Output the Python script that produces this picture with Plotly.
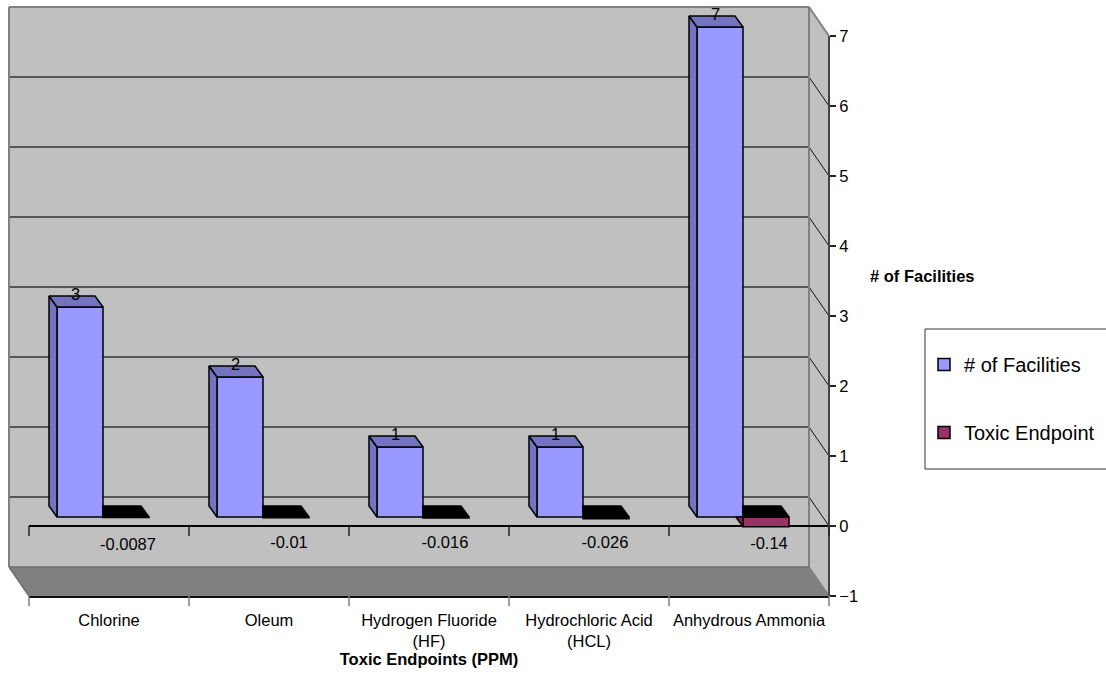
import plotly.graph_objects as go

categories = ["Chlorine", "Oleum", "Hydrogen Fluoride<br>(HF)", "Hydrochloric Acid<br>(HCL)", "Anhydrous Ammonia"]
facilities = [3, 2, 1, 1, 7]
toxic_endpoint = [-0.0087, -0.01, -0.016, -0.026, -0.14]
toxic_labels = ["-0.0087", "-0.01", "-0.016", "-0.026", "-0.14"]
y_ticks = [-1, 0, 1, 2, 3, 4, 5, 6, 7]

FONT = "Liberation Sans, Arial, sans-serif"
W, H = 1106, 675
X0, X1, Y_TOP, Y_BOT = 29, 829, 36, 596
PX_X = (X1 - X0) / 5
PX_Y = (Y_BOT - Y_TOP) / 8
Y_MAX = 7.5   # head-room above the last tick so the tallest bar's depth faces are not clipped
def px_x(v): return X0 + v * PX_X
def px_y(v): return Y_BOT - (v + 1) * PX_Y
def dx(p): return p / PX_X
def dy(p): return p / PX_Y
def paper_x(p): return p / W
def paper_y(p): return 1 - p / H

WALL_DX, WALL_DY = -20, -29      # back wall offset
BAR_W = 46 / PX_X
BLUE_L = 28 / PX_X
BASE = dy(9)  # bar front plane sits 9px above the axis plane
BAR_DX, BAR_DY = -8, 11          # bar depth in px

BLUE, BLUE_D = "#9999FF", "#7373BF"
PLUM, PLUM_D = "#993366", "#732650"
LINE = dict(color="black", width=1.5)

shapes = []
def poly(pts, fill, lc=None, lw=0):
    path = "M" + "L".join(f"{paper_x(a)},{paper_y(b)}" for a, b in pts) + "Z"
    shapes.append(dict(type="path", path=path, xref="paper", yref="paper", fillcolor=fill,
                       line=dict(color=lc or fill, width=lw), layer="below"))
def seg(a, b, c, d, col, w=1.5, layer="below"):
    shapes.append(dict(type="line", xref="paper", yref="paper", x0=paper_x(a), y0=paper_y(b),
                       x1=paper_x(c), y1=paper_y(d), line=dict(color=col, width=w), layer=layer))

# walls and floor
lx, rx = X0 + WALL_DX, X1 + WALL_DX
ty, by = Y_TOP + WALL_DY, Y_BOT + WALL_DY
poly([(lx, ty), (rx, ty), (rx, by), (lx, by)], "#C0C0C0")
poly([(rx, ty), (X1, Y_TOP), (X1, Y_BOT), (rx, by)], "#C0C0C0")
poly([(lx, by), (rx, by), (X1, Y_BOT), (X0, Y_BOT)], "#808080")
for v in y_ticks[1:-1]:
    seg(lx, px_y(v) + WALL_DY, rx, px_y(v) + WALL_DY, "#333333", 1.5)
    seg(rx, px_y(v) + WALL_DY, X1, px_y(v), "#111111", 1)
seg(lx, ty, rx, ty, "#808080", 2)
seg(lx, ty, lx, by, "#808080", 2)
seg(rx, ty, rx, by, "#808080", 2)
seg(rx, ty, X1, Y_TOP, "#808080", 2)
seg(lx, by, rx, by, "#6E6E6E", 1.5)
seg(lx, by, X0, Y_BOT, "#6E6E6E", 1.5)
seg(rx, by, X1, Y_BOT, "#808080", 1.5)
# value axis line (stops at the top tick)
seg(X1, Y_TOP, X1, Y_BOT, "#444444", 2, "above")
# category separators
for i in range(6):
    seg(px_x(i), px_y(0), px_x(i), px_y(0) + 10, "#222222", 1.5, "above")
    seg(px_x(i), Y_BOT, px_x(i), Y_BOT + 10, "#808080", 1.5, "above")
# legend box
shapes.append(dict(type="rect", xref="paper", yref="paper", x0=paper_x(925), x1=paper_x(1120),
                   y0=paper_y(329), y1=paper_y(469), line=dict(color="#333333", width=1),
                   fillcolor="white", layer="below"))

fig = go.Figure()
n = len(categories)
blue_x = [i + BLUE_L + BAR_W / 2 for i in range(n)]
plum_x = [i + BLUE_L + BAR_W * 1.5 for i in range(n)]

fig.add_bar(x=blue_x, y=facilities, base=[BASE] * n, width=BAR_W, name="# of Facilities",
            marker=dict(color=BLUE, line=LINE), legendgroup="a")
fig.add_bar(x=plum_x, y=toxic_endpoint, base=[BASE] * n, width=BAR_W, name="Toxic Endpoint",
            marker=dict(color=PLUM, line=LINE), legendgroup="b")

def face(xs, ys, fill):
    fig.add_scatter(x=xs, y=ys, mode="lines", fill="toself", fillcolor=fill, line=LINE,
                    showlegend=False, hoverinfo="skip")

ddx, ddy = dx(BAR_DX), dy(BAR_DY)
for i, v in enumerate(facilities):
    l, r, t = blue_x[i] - BAR_W / 2, blue_x[i] + BAR_W / 2, BASE + v
    face([l, l + ddx, l + ddx, l, l], [BASE, BASE + ddy, t + ddy, t, BASE], BLUE_D)
    face([l, l + ddx, r + ddx, r, l], [t, t + ddy, t + ddy, t, t], BLUE_D)
for i, v in enumerate(toxic_endpoint):
    l, r = plum_x[i] - BAR_W / 2, plum_x[i] + BAR_W / 2
    face([l, l, r + ddx, r, l], [BASE, BASE + ddy, BASE + ddy, BASE, BASE], "black")
    if abs(v) > ddy / 2:
        t = -v / ddy
        face([l, l + ddx * t, l, l], [BASE, BASE, BASE + v, BASE], PLUM_D)

fig.add_scatter(x=[x + dx(-4.5) for x in blue_x], y=[BASE + v + dy(11.5) for v in facilities],
                text=[str(v) for v in facilities], mode="text", showlegend=False, hoverinfo="skip",
                textfont=dict(family=FONT, size=16.5, color="black"))
label_nudge = [(2, -4), (3, -2), (-1, -2), (-1, -2), (3, -3)]
fig.add_scatter(x=[x + dx(a) for x, (a, b) in zip(plum_x, label_nudge)],
                y=[dy(-16 + b) for a, b in label_nudge],
                text=toxic_labels, mode="text", showlegend=False, hoverinfo="skip",
                textfont=dict(family=FONT, size=16.5, color="black"))

fig.update_layout(
    width=W, height=H, margin=dict(l=0, r=0, t=0, b=0), autosize=False,
    paper_bgcolor="white", plot_bgcolor="rgba(0,0,0,0)",
    barmode="overlay", shapes=shapes,
    font=dict(family=FONT, size=16.5, color="black"),
    xaxis=dict(domain=[paper_x(X0), paper_x(X1)], range=[0, 5], tickvals=[i + 0.5 for i in range(n)],
               ticktext=categories, ticks="", ticklabelstandoff=8, showgrid=False, showline=True,
               linecolor="#111111", linewidth=1.5, zeroline=False, automargin=False, tickfont=dict(size=16.5),
               title=dict(text="<b>Toxic Endpoints (PPM)</b>", font=dict(size=16.5), standoff=0)),
    yaxis=dict(domain=[paper_y(Y_BOT), paper_y(px_y(Y_MAX))], range=[-1, Y_MAX], tickvals=y_ticks, side="right",
               ticks="outside", ticklen=6, tickcolor="#222222", tickwidth=1.5, showgrid=False,
               showline=False, zeroline=True, zerolinecolor="black",
               zerolinewidth=1.5, automargin=False, tickfont=dict(size=16.5)),
    legend=dict(x=paper_x(924), y=paper_y(345), xanchor="left", yanchor="top", bgcolor="rgba(0,0,0,0)",
                font=dict(size=20), tracegroupgap=39, traceorder="grouped"),
    annotations=[dict(text="<b># of Facilities</b>", xref="paper", yref="paper", x=paper_x(922.5),
                      y=paper_y(276), xanchor="center", showarrow=False, font=dict(size=16.5))],
)
fig.write_html("out.html", config=dict(displayModeBar=False),
               post_script="document.body.style.margin='0';document.body.style.overflow='hidden';")
